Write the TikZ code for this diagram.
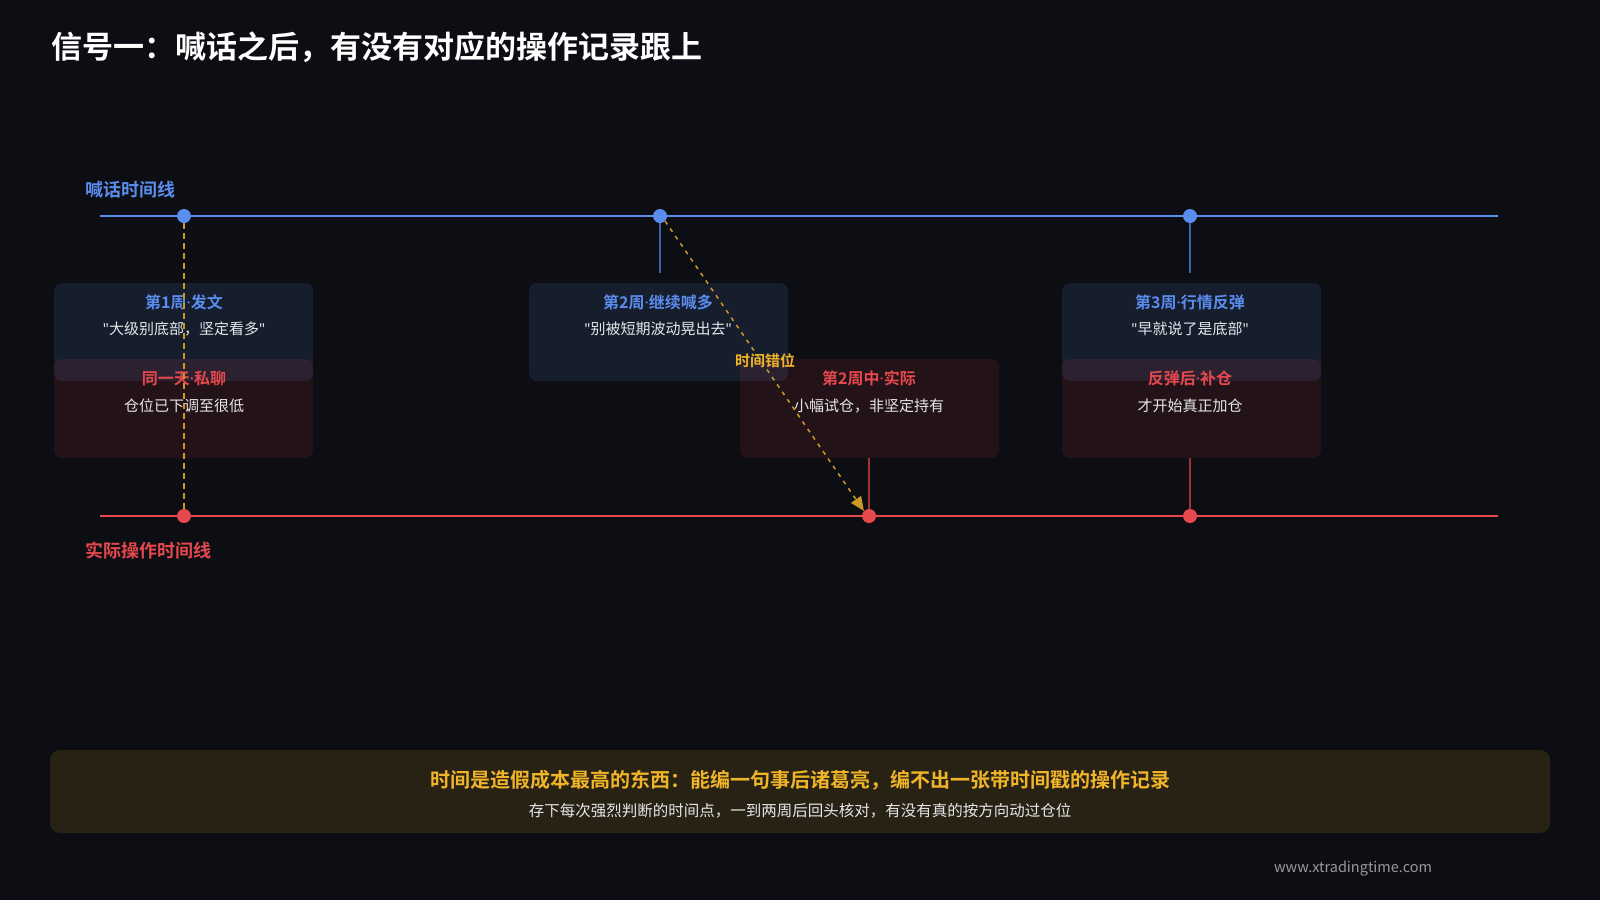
\documentclass[tikz,border=0pt]{standalone}
\usepackage{fontspec}
\setmainfont{Noto Sans CJK SC}
\newfontfamily\cjkb{Noto Sans CJK SC Bold}
\newfontfamily\lat{Noto Sans}
\newcommand{\q}{{\lat"}}
\newcommand{\md}{{\lat\textbf{·}}}
\usetikzlibrary{arrows.meta}
\definecolor{bg}{HTML}{0D0E13}
\definecolor{bl}{HTML}{5B8DEF}
\definecolor{rd}{HTML}{E5484D}
\definecolor{yl}{HTML}{F0B429}
\definecolor{tx}{HTML}{E6E6EA}
\begin{document}
\begin{tikzpicture}[x=1pt,y=-1pt,
  bbox/.style={rounded corners=8pt,fill=bl,fill opacity=0.12,draw=none},
  rbox/.style={rounded corners=8pt,fill=rd,fill opacity=0.10,draw=none},
  bt/.style={text=bl,font=\cjkb\fontsize{16}{18}\selectfont},
  rt/.style={text=rd,font=\cjkb\fontsize{16}{18}\selectfont},
  bd/.style={text=tx,font=\fontsize{15}{17}\selectfont},
  dotb/.style={circle,fill=bl,inner sep=0pt,minimum size=14pt},
  dotr/.style={circle,fill=rd,inner sep=0pt,minimum size=14pt}]
\fill[bg] (0,0) rectangle (1600,900);
\useasboundingbox (0,0) rectangle (1600,900);
\node[anchor=west,text=white,font=\cjkb\fontsize{31}{36}\selectfont] (title) at (48,47) {信号一：喊话之后，有没有对应的操作记录跟上};
\node[anchor=west,text=bl,font=\cjkb\fontsize{18}{20}\selectfont] (bl) at (82,190) {喊话时间线};
\node[anchor=west,text=rd,font=\cjkb\fontsize{18}{20}\selectfont] (rl) at (82,551) {实际操作时间线};
% boxes
\fill[bbox] (54,283) rectangle (313,381);
\fill[bbox] (529,283) rectangle (788,381);
\fill[bbox] (1062,283) rectangle (1321,381);
\fill[rbox] (54,359) rectangle (313,458);
\fill[rbox] (740,359) rectangle (999,458);
\fill[rbox] (1062,359) rectangle (1321,458);
% lines
\coordinate (bs) at (100,216); \coordinate (be) at (1498,216);
\coordinate (rs) at (100,516); \coordinate (re) at (1498,516);
\draw[bl,line width=2pt] (bs) -- (be);
\draw[rd,line width=2pt] (rs) -- (re);
\node[dotb] (b1) at (184,216) {};
\node[dotb] (b2) at (660,216) {};
\node[dotb] (b3) at (1190,216) {};
\node[dotr] (r1) at (184,516) {};
\node[dotr] (r2) at (869,516) {};
\node[dotr] (r3) at (1190,516) {};
\coordinate (s2) at (660,273); \coordinate (s3) at (1190,273);
\coordinate (t2) at (869,458); \coordinate (t3) at (1190,458);
\draw[bl!70!black,line width=1.2pt] (b2) -- (s2);
\draw[bl!70!black,line width=1.2pt] (b3) -- (s3);
\draw[rd!70!black,line width=1.2pt] (t2) -- (r2);
\draw[rd!70!black,line width=1.2pt] (t3) -- (r3);
% texts
\node[bt] (t1a) at (184,302) {第1周\md 发文};
\node[bd] (t1b) at (184,329) {\q 大级别底部，坚定看多\q};
\node[rt] (t1c) at (184,378) {同一天\md 私聊};
\node[bd] (t1d) at (184,406) {仓位已下调至很低};
\node[bt] (t2a) at (658,302) {第2周\md 继续喊多};
\node[bd] (t2b) at (658,329) {\q 别被短期波动晃出去\q};
\node[rt] (t2c) at (869,378) {第2周中\md 实际};
\node[bd] (t2d) at (869,406) {小幅试仓，非坚定持有};
\node[bt] (t3a) at (1190,302) {第3周\md 行情反弹};
\node[bd] (t3b) at (1190,329) {\q 早就说了是底部\q};
\node[rt] (t3c) at (1190,378) {反弹后\md 补仓};
\node[bd] (t3d) at (1190,406) {才开始真正加仓};
% yellow connectors
\draw[yl!85!black,line width=1.3pt,dash pattern=on 6pt off 4pt] (b1) -- (r1);
\draw[yl!85!black,line width=1.5pt,dash pattern=on 4pt off 5pt,-{Triangle[length=14pt,width=12pt]}] (b2.south east) -- (r2.north west);
\node[text=yl,font=\cjkb\fontsize{15}{17}\selectfont] (mis) at (765,361) {时间错位};
% bottom
\fill[yl,fill opacity=0.12,rounded corners=10pt] (50,750) rectangle (1550,833);
\node[text=yl,font=\cjkb\fontsize{20}{22}\selectfont] (bt1) at (800,780) {时间是造假成本最高的东西：能编一句事后诸葛亮，编不出一张带时间戳的操作记录};
\node[text=tx,font=\fontsize{15.5}{17}\selectfont] (bt2) at (800,811) {存下每次强烈判断的时间点，一到两周后回头核对，有没有真的按方向动过仓位};
\node[text=gray!80,font=\fontsize{14.5}{16}\selectfont] (web) at (1353,869) {www.xtradingtime.com};
\end{tikzpicture}
\end{document}
